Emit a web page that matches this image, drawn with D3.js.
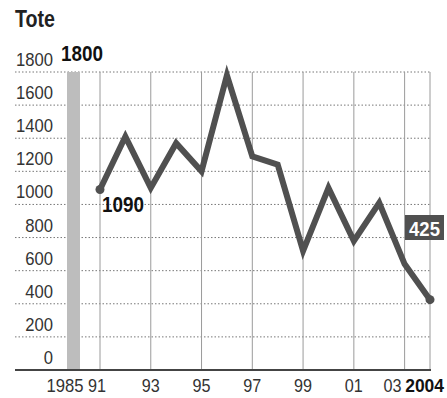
<!DOCTYPE html>
<html>
<head>
<meta charset="utf-8">
<script src="https://cdn.jsdelivr.net/npm/d3@7"></script>
<style>
  html, body { margin: 0; padding: 0; background: #fff; }
  svg { display: block; }
  text { font-family: "Liberation Sans", Arial, sans-serif; }
</style>
</head>
<body>
<svg id="chart" width="447" height="398"></svg>
<script>
// ---- data ----
const years = [1991, 1992, 1993, 1994, 1995, 1996, 1997, 1998, 1999, 2000, 2001, 2002, 2003, 2004];
const deaths = [1090, 1410, 1100, 1370, 1200, 1780, 1290, 1240, 720, 1100, 780, 1010, 640, 425];
const baseYear = "1985";
const baseValue = 1800;
const yTicks = [0, 200, 400, 600, 800, 1000, 1200, 1400, 1600, 1800];
const xTickYears = [1991, 1993, 1995, 1997, 1999, 2001, 2003, 2004];
const xTickLabels = ["91", "93", "95", "97", "99", "01", "03", "2004"];
const title = "Tote";

// ---- layout ----
const svg = d3.select("#chart");
const x = d3.scaleLinear().domain([1991, 2004]).range([100, 430]);
const y = d3.scaleLinear().domain([0, 1800]).range([370, 72]);
const gridLeft = 15, gridRight = 431;
const barX = 67, barW = 13;
const xLabelY = 391.5;

// condensed look: squeeze glyphs to a per-character width
function narrow(sel, perChar) {
  sel.each(function () {
    const t = d3.select(this);
    t.attr("textLength", t.text().length * perChar).attr("lengthAdjust", "spacingAndGlyphs");
  });
  return sel;
}

// title
svg.append("text").attr("x", 15).attr("y", 27)
  .attr("font-size", 23).attr("font-weight", "bold").attr("fill", "#222")
  .text(title)
  .attr("textLength", 40).attr("lengthAdjust", "spacingAndGlyphs");

// horizontal dotted gridlines
svg.append("g").selectAll("line").data(yTicks.filter(d => d > 0)).join("line")
  .attr("x1", gridLeft).attr("x2", gridRight)
  .attr("y1", d => y(d)).attr("y2", d => y(d))
  .attr("stroke", "#777").attr("stroke-width", 1)
  .attr("stroke-dasharray", "1.5,2");

// vertical lines
svg.append("g").selectAll("line").data(xTickYears).join("line")
  .attr("x1", d => x(d)).attr("x2", d => x(d))
  .attr("y1", y(1800)).attr("y2", y(0))
  .attr("stroke", "#9a9a9a").attr("stroke-width", 1);

// 1985 bar
svg.append("rect")
  .attr("x", barX).attr("width", barW)
  .attr("y", y(baseValue)).attr("height", y(0) - y(baseValue))
  .attr("fill", "#bdbdbd");

// baseline
svg.append("line")
  .attr("x1", gridLeft).attr("x2", gridRight)
  .attr("y1", y(0)).attr("y2", y(0))
  .attr("stroke", "#444").attr("stroke-width", 2);

// y tick labels
narrow(svg.append("g").selectAll("text").data(yTicks).join("text")
  .attr("x", 53).attr("y", d => y(d) - 6)
  .attr("text-anchor", "end").attr("font-size", 19).attr("fill", "#333")
  .text(d => d), 9.25);

// x tick labels
narrow(svg.append("text").attr("x", 65).attr("y", xLabelY)
  .attr("text-anchor", "middle").attr("font-size", 19).attr("fill", "#333")
  .text(baseYear), 9.25);
const xl = svg.append("g").selectAll("text").data(xTickYears).join("text")
  .attr("x", d => {
    if (d === 2004) return 444;
    if (d === 1991) return x(d) - 3;
    if (d === 2003) return x(d) - 12;
    return x(d);
  })
  .attr("y", xLabelY)
  .attr("text-anchor", d => d === 2004 ? "end" : "middle")
  .attr("font-size", 19)
  .attr("font-weight", d => d === 2004 ? "bold" : "normal")
  .attr("fill", d => d === 2004 ? "#111" : "#333")
  .text((d, i) => xTickLabels[i]);
xl.each(function (d) {
  const t = d3.select(this);
  t.attr("textLength", t.text().length * (d === 2004 ? 9.7 : 9.0)).attr("lengthAdjust", "spacingAndGlyphs");
});

// line
const pts = years.map((yr, i) => [yr, deaths[i]]);
svg.append("path")
  .datum(pts)
  .attr("fill", "none")
  .attr("stroke", "#505050")
  .attr("stroke-width", 6)
  .attr("stroke-linejoin", "miter")
  .attr("d", d3.line().x(d => x(d[0])).y(d => y(d[1])));

// end dots
svg.append("g").selectAll("circle").data([pts[0], pts[pts.length - 1]]).join("circle")
  .attr("cx", d => x(d[0])).attr("cy", d => y(d[1]))
  .attr("r", 4.5).attr("fill", "#505050");

// value labels
narrow(svg.append("text").attr("x", 61).attr("y", 61)
  .attr("font-size", 22).attr("font-weight", "bold").attr("fill", "#111")
  .text(baseValue), 10.5);
narrow(svg.append("text").attr("x", x(years[0]) + 2).attr("y", y(deaths[0]) + 22)
  .attr("font-size", 22).attr("font-weight", "bold").attr("fill", "#111")
  .text(deaths[0]), 10.5);
const lastVal = deaths[deaths.length - 1];
svg.append("rect").attr("x", 405).attr("y", 215).attr("width", 39).attr("height", 25)
  .attr("fill", "#505050");
narrow(svg.append("text").attr("x", 424.5).attr("y", 236)
  .attr("text-anchor", "middle")
  .attr("font-size", 21).attr("font-weight", "bold").attr("fill", "#fff")
  .text(lastVal), 10.3);
</script>
</body>
</html>
